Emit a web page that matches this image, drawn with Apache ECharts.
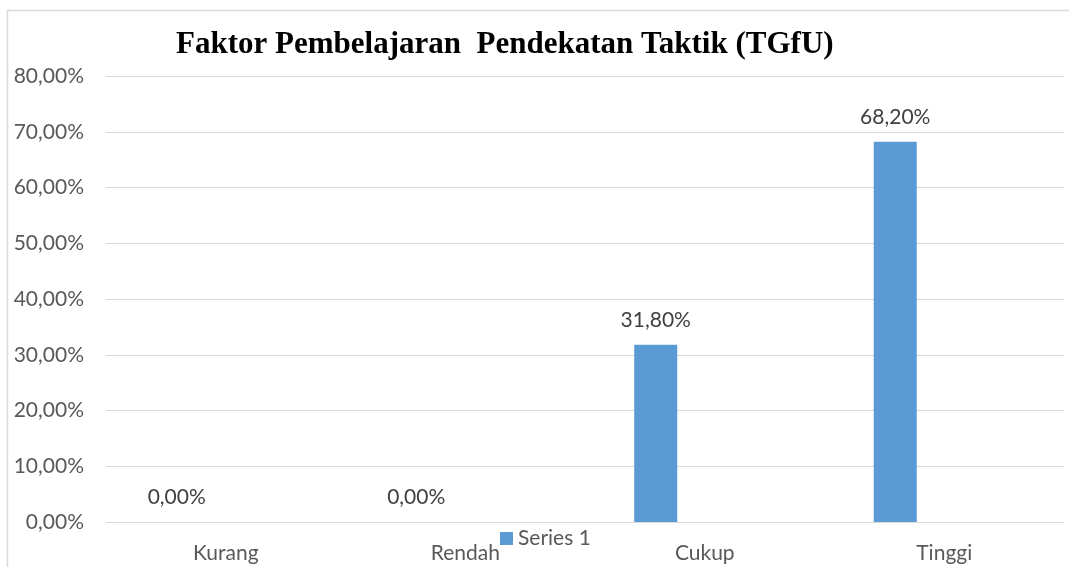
<!DOCTYPE html>
<html>
<head>
<meta charset="utf-8">
<script src="https://cdn.jsdelivr.net/npm/echarts@6/dist/echarts.min.js"></script>
<style>
  html, body { margin: 0; padding: 0; background: #fff; }
  #chart { width: 1069px; height: 567px; }
</style>
</head>
<body>
<div id="chart"></div>
<script>
var categories = ['Kurang', 'Rendah', 'Cukup', 'Tinggi'];
var series1 = [0, 0, 31.8, 68.2];
var emptySeries = [null, null, null, null];

var chart = echarts.init(document.getElementById('chart'));

function pct(v) {
    return v.toFixed(2).replace('.', ',') + '%';
}

var option = {
    animation: false,
    title: {
        text: 'Faktor Pembelajaran  Pendekatan Taktik (TGfU)',
        left: 171,
        top: 24,
        textStyle: {
            fontFamily: 'Liberation Serif',
            fontWeight: 'bold',
            fontSize: 31,
            color: '#000'
        }
    },
    graphic: [{
        type: 'rect',
        shape: { x: 7.5, y: 10.5, width: 1100, height: 600 },
        style: { fill: 'none', stroke: '#d9d9d9', lineWidth: 1.5 },
        silent: true
    }],
    legend: {
        data: ['Series 1'],
        left: 495,
        top: 523,
        itemWidth: 13,
        itemHeight: 13,
        itemGap: 5,
        icon: 'rect',
        textStyle: { fontFamily: 'Lato', fontSize: 21, color: '#595959' }
    },
    grid: {
        left: 106,
        right: 5,
        top: 76,
        bottom: 45
    },
    xAxis: {
        type: 'category',
        data: categories,
        axisTick: { show: false },
        axisLine: { lineStyle: { color: '#d9d9d9' } },
        axisLabel: {
            fontFamily: 'Lato',
            fontSize: 21,
            color: '#595959',
            margin: 21
        }
    },
    yAxis: {
        type: 'value',
        min: 0,
        max: 80,
        interval: 10,
        axisLine: { show: false },
        axisTick: { show: false },
        splitLine: { lineStyle: { color: '#d9d9d9' } },
        axisLabel: {
            fontFamily: 'Lato',
            fontSize: 21,
            color: '#595959',
            margin: 22,
            formatter: function (v) { return pct(v); }
        }
    },
    series: [{
        name: 'Series 1',
        type: 'bar',
        data: series1,
        barWidth: 43,
        barGap: '128%',
        itemStyle: { color: '#5b9bd5' },
        label: {
            show: true,
            position: 'top',
            distance: 14,
            fontFamily: 'Lato',
            fontSize: 21,
            color: '#404040',
            formatter: function (p) { return pct(p.value); }
        }
    }, {
        name: 'Series 2',
        type: 'bar',
        data: emptySeries,
        barWidth: 43
    }]
};
chart.setOption(option);
</script>
</body>
</html>
